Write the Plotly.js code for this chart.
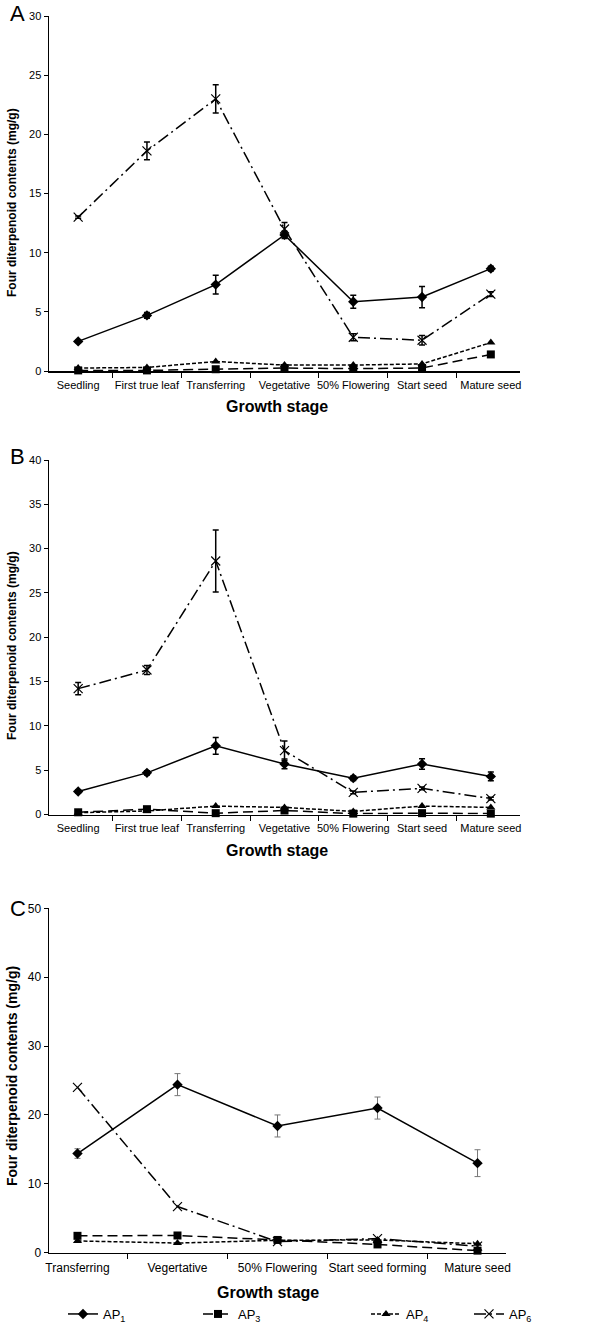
<!DOCTYPE html>
<html>
<head>
<meta charset="utf-8">
<script src="https://cdn.plot.ly/plotly-3.0.1.min.js"></script>
<style>
  body { margin: 0; background: #fff; }
  #chart { width: 600px; height: 1329px; }
</style>
</head>
<body>
<div id="chart"></div>
<script>
// growth stages
var stagesAB = ["Seedling", "First true leaf", "Transferring", "Vegetative", "50% Flowering", "Start seed", "Mature seed"];
var stagesC = ["Transferring", "Vegertative", "50% Flowering", "Start seed forming", "Mature seed"];

// panel A
var a_ap1 = [2.5, 4.7, 7.3, 11.5, 5.85, 6.25, 8.65];
var a_ap1Err = [0.1, 0.25, 0.8, 0.3, 0.55, 0.9, 0.2];
var a_ap3 = [0.05, 0.05, 0.15, 0.25, 0.2, 0.25, 1.4];
var a_ap4 = [0.25, 0.3, 0.8, 0.5, 0.5, 0.6, 2.4];
var a_ap6 = [13.0, 18.6, 23.0, 12.0, 2.85, 2.6, 6.5];
var a_ap6Err = [0.1, 0.75, 1.2, 0.55, 0.3, 0.4, 0.2];

// panel B
var b_ap1 = [2.6, 4.7, 7.75, 5.7, 4.1, 5.7, 4.3];
var b_ap1Err = [0.2, 0.25, 0.95, 0.55, 0.25, 0.6, 0.5];
var b_ap3 = [0.25, 0.6, 0.15, 0.45, 0.1, 0.15, 0.1];
var b_ap4 = [0.2, 0.4, 0.95, 0.8, 0.35, 0.95, 0.8];
var b_ap6 = [14.2, 16.3, 28.6, 7.2, 2.5, 2.95, 1.8];
var b_ap6Err = [0.7, 0.5, 3.5, 1.1, 0.15, 0.15, 0.15];

// panel C
var c_ap1 = [14.4, 24.4, 18.4, 21.0, 13.0];
var c_ap1Err = [0.7, 1.6, 1.6, 1.6, 1.95];
var c_ap3 = [2.45, 2.5, 1.85, 1.2, 0.3];
var c_ap4 = [1.7, 1.4, 1.8, 1.85, 1.3];
var c_ap6 = [24.0, 6.7, 1.6, 2.05, 0.95];

var seriesNames = ["AP<sub>1</sub>", "AP<sub>3</sub>", "AP<sub>4</sub>", "AP<sub>6</sub>"];

var FONT = "Liberation Sans, Arial, sans-serif";

function makeTraces(x, ys, errs, xa, ya, errColor, errThick, legendOn) {
    var dashes = ["solid", "10px,5px", "4px,2px", "12px,4px,2px,4px"];
    var symbols = ["diamond", "square", "triangle-up", "x-thin-open"];
    var sizes = [8, 8, 8, 9];
    var legends = ["legend", "legend2", "legend3", "legend4"];
    var traces = [];
    for (var i = 0; i < 4; i++) {
        var t = {
            x: x,
            y: ys[i],
            xaxis: xa,
            yaxis: ya,
            type: 'scatter',
            mode: 'lines+markers',
            name: seriesNames[i],
            legend: legends[i],
            showlegend: legendOn,
            cliponaxis: false,
            line: { color: 'black', width: 1.5, dash: dashes[i] },
            marker: {
                symbol: symbols[i],
                size: sizes[i],
                color: 'black',
                line: { color: 'black', width: i == 3 ? 1.2 : 0 }
            }
        };
        if (errs[i]) {
            t.error_y = {
                type: 'data',
                array: errs[i],
                visible: true,
                color: errColor,
                thickness: errThick,
                width: 3
            };
        }
        traces.push(t);
    }
    return traces;
}

var data = []
    .concat(makeTraces(stagesAB, [a_ap1, a_ap3, a_ap4, a_ap6], [a_ap1Err, null, null, a_ap6Err], 'x', 'y', 'black', 1.5, false))
    .concat(makeTraces(stagesAB, [b_ap1, b_ap3, b_ap4, b_ap6], [b_ap1Err, null, null, b_ap6Err], 'x2', 'y2', 'black', 1.5, false))
    .concat(makeTraces(stagesC, [c_ap1, c_ap3, c_ap4, c_ap6], [c_ap1Err, null, null, null], 'x3', 'y3', '#777', 1, true));

function xAxis(domain, anchor, size) {
    return {
        domain: domain,
        anchor: anchor,
        type: 'category',
        showline: true,
        linecolor: 'black',
        linewidth: 1.5,
        showgrid: false,
        zeroline: false,
        ticks: 'outside',
        tickson: 'boundaries',
        ticklen: 5,
        tickcolor: 'black',
        tickwidth: 1,
        tickangle: 0,
        ticklabelstandoff: 3,
        tickfont: { family: FONT, size: size, color: '#000000' },
        fixedrange: true
    };
}

function yAxis(domain, anchor, max, dtick, size) {
    return {
        domain: domain,
        anchor: anchor,
        range: [0, max],
        dtick: dtick,
        showline: true,
        linecolor: 'black',
        linewidth: 1.5,
        showgrid: false,
        zeroline: false,
        ticks: 'outside',
        ticklen: 4,
        tickcolor: 'black',
        tickwidth: 1,
        tickfont: { family: FONT, size: size, color: '#000000' },
        fixedrange: true
    };
}

// legend box sits on the bottom edge so it doesn't push the margins
function legendAt(xpx) {
    return {
        x: xpx / 600,
        y: 0,
        xanchor: 'left',
        yanchor: 'bottom',
        orientation: 'h',
        font: { family: FONT, size: 13, color: 'black' },
        bgcolor: 'rgba(0,0,0,0)',
        borderwidth: 0
    };
}

// text labels: [text, x px, y px, size, angle, bold]
var labels = [
    ['A', 8, 14, 22, 0, false],
    ['B', 8, 456, 22, 0, false],
    ['C', 8, 908, 22, 0, false],
    ['Growth stage', 277, 406, 16, 0, true],
    ['Growth stage', 277, 850, 16, 0, true],
    ['Growth stage', 268, 1292, 16, 0, true],
    ['Four diterpenoid contents (mg/g)', 12, 203, 12, -90, true],
    ['Four diterpenoid contents (mg/g)', 12, 646, 12, -90, true],
    ['Four diterpenoid contents (mg/g)', 12, 1076, 14, -90, true]
];

var layout = {
    width: 600,
    height: 1329,
    margin: { l: 0, r: 0, t: 0, b: 0 },
    paper_bgcolor: 'white',
    plot_bgcolor: 'white',
    font: { family: FONT, color: 'black' },
    xaxis: xAxis([49 / 600, 520 / 600], 'y', 11),
    yaxis: yAxis([1 - 371 / 1329, 1 - 16 / 1329], 'x', 30, 5, 11),
    xaxis2: xAxis([49 / 600, 520 / 600], 'y2', 11),
    yaxis2: yAxis([1 - 814.5 / 1329, 1 - 460 / 1329], 'x2', 40, 5, 11),
    xaxis3: xAxis([49 / 600, 506 / 600], 'y3', 12),
    yaxis3: yAxis([1 - 1252.7 / 1329, 1 - 908.3 / 1329], 'x3', 50, 10, 12),
    legend: legendAt(63),
    legend2: legendAt(198),
    legend3: legendAt(366),
    legend4: legendAt(469),
    annotations: labels.map(function (l) {
        return {
            text: l[5] ? '<b>' + l[0] + '</b>' : l[0],
            x: l[1] / 600,
            y: 1 - l[2] / 1329,
            xref: 'paper',
            yref: 'paper',
            xanchor: l[4] || l[5] ? 'center' : 'left',
            yanchor: 'middle',
            textangle: l[4],
            showarrow: false,
            font: { family: FONT, size: l[3], color: 'black' }
        };
    })
};

Plotly.newPlot('chart', data, layout, { displayModeBar: false, staticPlot: true });
</script>
</body>
</html>
